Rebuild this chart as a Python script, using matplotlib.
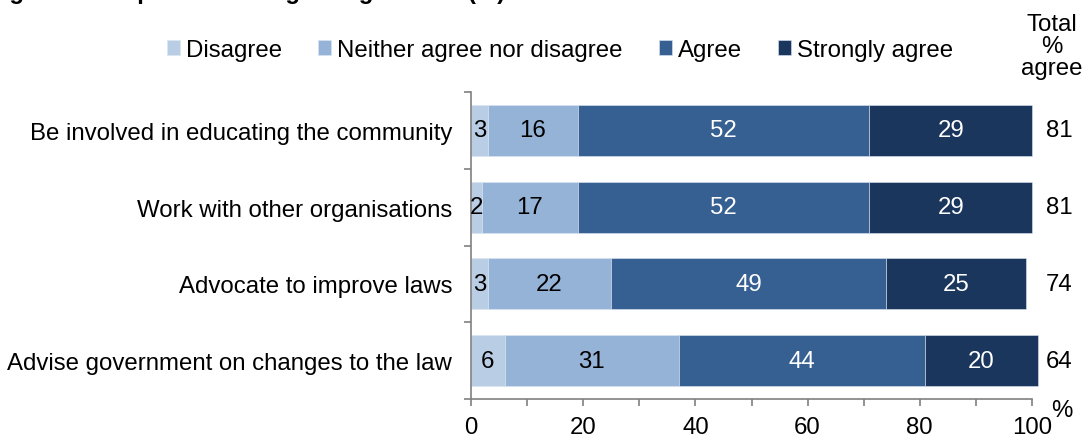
import matplotlib
matplotlib.use("Agg")
import matplotlib.pyplot as plt
from matplotlib.ticker import MultipleLocator, FixedLocator
from matplotlib.transforms import blended_transform_factory
import numpy as np

plt.rcParams['font.family'] = ['Liberation Sans', 'DejaVu Sans']

categories = ["Be involved in educating the community",
              "Work with other organisations",
              "Advocate to improve laws",
              "Advise government on changes to the law"]
series_names = ["Disagree", "Neither agree nor disagree", "Agree", "Strongly agree"]
disagree = [3, 2, 3, 6]
neither = [16, 17, 22, 31]
agree = [52, 52, 49, 44]
strongly = [29, 29, 25, 20]
total_agree = [81, 81, 74, 64]

colors = ["#B9CDE5", "#95B3D7", "#376092", "#1B365D"]
text_colors = ["black", "black", "white", "white"]
FS = 17.3

fig = plt.figure(figsize=(10.85, 4.39), dpi=100)
ax = fig.add_axes([471/1085, 1-400/439, (1032-471)/1085, (400-93)/439])

y = np.arange(len(categories))
left = np.zeros(len(categories))
handles = []
for vals, col, tc, name in zip([disagree, neither, agree, strongly], colors, text_colors, series_names):
    bars = ax.barh(y, vals, left=left, height=0.665, color=col, edgecolor="#DCE6F2",
                   linewidth=0.4, label=name, clip_on=False)
    handles.append(bars)
    for yi, l, v in zip(y, left, vals):
        ax.text(l + v/2, yi, str(v), ha="center", va="center", color=tc, fontsize=FS)
    left = left + np.array(vals)

tr = blended_transform_factory(fig.transFigure, ax.transData)
for yi, t in zip(y, total_agree):
    ax.text(1059/1085, yi, str(t), transform=tr, ha="center", va="center", fontsize=FS)

ax.set_xlim(0, 100)
ax.set_ylim(3.5, -0.5)
ax.set_yticks(y)
ax.set_yticklabels(categories, fontsize=FS)
ax.yaxis.set_minor_locator(FixedLocator(np.arange(-0.5, 4.0, 1.0)))
ax.tick_params(axis="y", which="major", length=0, pad=13.5)
ax.tick_params(axis="y", which="minor", length=5, color="#808080", direction="out", width=1.2)
ax.xaxis.set_major_locator(MultipleLocator(20))
ax.xaxis.set_minor_locator(MultipleLocator(10))
ax.tick_params(axis="x", which="both", length=5, color="#808080", width=1.2, labelsize=FS, pad=7.5)
for s in ["top", "right"]:
    ax.spines[s].set_visible(False)
for s in ["left", "bottom"]:
    ax.spines[s].set_color("#808080")
    ax.spines[s].set_linewidth(1.2)

fig.text(1052/1085, 1-14/439, "Total\n%\nagree", ha="center", va="top", fontsize=FS, linespacing=1.0)
fig.text(1062/1085, 1-411/439, "%", ha="center", va="center", fontsize=FS)

leg = fig.legend(handles=handles, labels=series_names, loc="center", bbox_to_anchor=(560/1085, 1-51/439),
                 ncol=4, frameon=False, fontsize=FS, handlelength=0.55, handleheight=0.55,
                 handletextpad=0.25, columnspacing=1.5, borderaxespad=0)

fig.text(-12/1085, 1+1/439, "Figure 14: Impact areas regarding the law (%)", ha="left", va="baseline",
         fontsize=FS, fontweight="bold")

fig.savefig("out.png", dpi=100)
